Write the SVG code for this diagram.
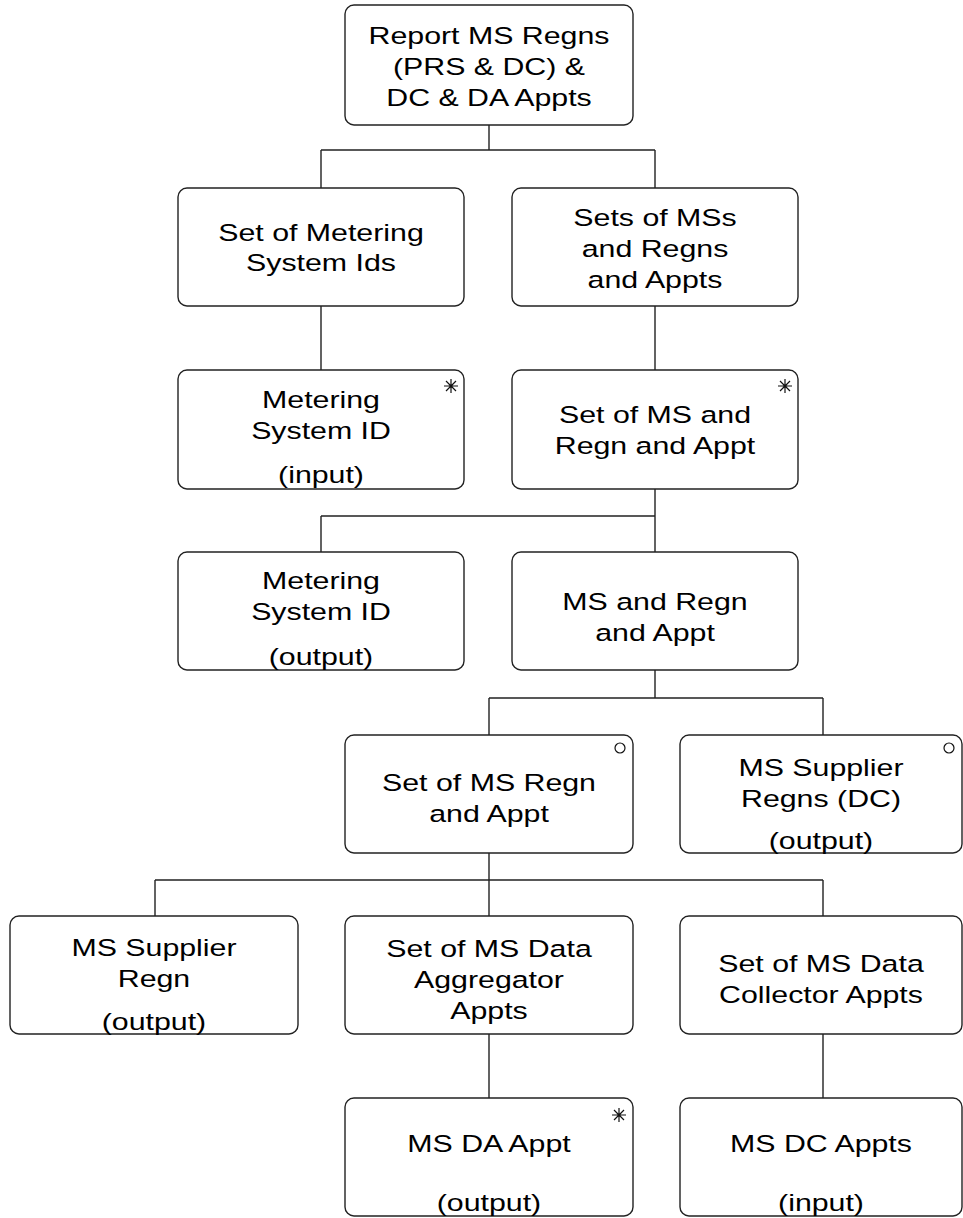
<svg xmlns="http://www.w3.org/2000/svg" width="963" height="1218" viewBox="0 0 963 1218">
<style>
.box{fill:#fff;stroke:#222;stroke-width:1.4}
.c{fill:none;stroke:#222;stroke-width:1.4}
text{font-family:"Liberation Sans",Arial,sans-serif;font-size:23.5px;fill:#000;text-anchor:middle}
.mk{fill:none;stroke:#111;stroke-width:1.2}
</style>
<defs>
<g id="star"><path class="mk" d="M0,-7V7M-7,0H7M-5,-5L5,5M-5,5L5,-5"/></g>
<g id="circ"><circle class="mk" r="5"/></g>
</defs>
<rect width="963" height="1218" fill="#fff"/>
<g id="connectors">
<path class="c" d="M489,125V150M321,150H655M321,150V188M655,150V188"/>
<path class="c" d="M321,306V370M655,306V370"/>
<path class="c" d="M655,489V516M321,516H655M321,516V552M655,516V552"/>
<path class="c" d="M655,670V698M489,698H823M489,698V735M823,698V735"/>
<path class="c" d="M489,853V880M155,880H823M155,880V916M489,880V916M823,880V916"/>
<path class="c" d="M489,1034V1098M823,1034V1098"/>
</g>
<g id="n1"><rect class="box" x="345" y="5" width="288" height="120" rx="9"/>
<g transform="translate(489 0) scale(1.29 1)"><text x="0" y="44">Report MS Regns</text><text x="0" y="75"> (PRS &amp; DC) &amp;</text><text x="0" y="106">DC &amp; DA Appts</text></g></g>
<g id="n2"><rect class="box" x="178" y="188" width="286" height="118" rx="9"/>
<g transform="translate(321 0) scale(1.29 1)"><text x="0" y="241">Set of Metering</text><text x="0" y="271">System Ids</text></g></g>
<g id="n3"><rect class="box" x="512" y="188" width="286" height="118" rx="9"/>
<g transform="translate(655 0) scale(1.29 1)"><text x="0" y="226">Sets of MSs</text><text x="0" y="257">and Regns</text><text x="0" y="288">and Appts</text></g></g>
<g id="n4"><rect class="box" x="178" y="370" width="286" height="119" rx="9"/>
<use href="#star" x="451" y="386"/>
<g transform="translate(321 0) scale(1.29 1)"><text x="0" y="408">Metering</text><text x="0" y="439">System ID</text><text x="0" y="483">(input)</text></g></g>
<g id="n5"><rect class="box" x="512" y="370" width="286" height="119" rx="9"/>
<use href="#star" x="785" y="386"/>
<g transform="translate(655 0) scale(1.29 1)"><text x="0" y="423">Set of MS and</text><text x="0" y="454">Regn and Appt</text></g></g>
<g id="n6"><rect class="box" x="178" y="552" width="286" height="118" rx="9"/>
<g transform="translate(321 0) scale(1.29 1)"><text x="0" y="589">Metering</text><text x="0" y="620">System ID</text><text x="0" y="665">(output)</text></g></g>
<g id="n7"><rect class="box" x="512" y="552" width="286" height="118" rx="9"/>
<g transform="translate(655 0) scale(1.29 1)"><text x="0" y="610">MS and Regn</text><text x="0" y="641">and Appt</text></g></g>
<g id="n8"><rect class="box" x="345" y="735" width="288" height="118" rx="9"/>
<use href="#circ" x="620" y="748"/>
<g transform="translate(489 0) scale(1.29 1)"><text x="0" y="791">Set of MS Regn</text><text x="0" y="822">and Appt</text></g></g>
<g id="n9"><rect class="box" x="680" y="735" width="282" height="118" rx="9"/>
<use href="#circ" x="949" y="748"/>
<g transform="translate(821 0) scale(1.29 1)"><text x="0" y="776">MS Supplier</text><text x="0" y="807">Regns (DC)</text><text x="0" y="849">(output)</text></g></g>
<g id="n10"><rect class="box" x="10" y="916" width="288" height="118" rx="9"/>
<g transform="translate(154 0) scale(1.29 1)"><text x="0" y="956">MS Supplier</text><text x="0" y="987">Regn</text><text x="0" y="1030">(output)</text></g></g>
<g id="n11"><rect class="box" x="345" y="916" width="288" height="118" rx="9"/>
<g transform="translate(489 0) scale(1.29 1)"><text x="0" y="957">Set of MS Data</text><text x="0" y="988">Aggregator</text><text x="0" y="1019">Appts</text></g></g>
<g id="n12"><rect class="box" x="680" y="916" width="282" height="118" rx="9"/>
<g transform="translate(821 0) scale(1.29 1)"><text x="0" y="972">Set of MS Data</text><text x="0" y="1003">Collector Appts</text></g></g>
<g id="n13"><rect class="box" x="345" y="1098" width="288" height="118" rx="9"/>
<use href="#star" x="619" y="1115"/>
<g transform="translate(489 0) scale(1.29 1)"><text x="0" y="1152">MS DA Appt</text><text x="0" y="1211">(output)</text></g></g>
<g id="n14"><rect class="box" x="680" y="1098" width="282" height="118" rx="9"/>
<g transform="translate(821 0) scale(1.29 1)"><text x="0" y="1152">MS DC Appts</text><text x="0" y="1211">(input)</text></g></g>
</svg>
